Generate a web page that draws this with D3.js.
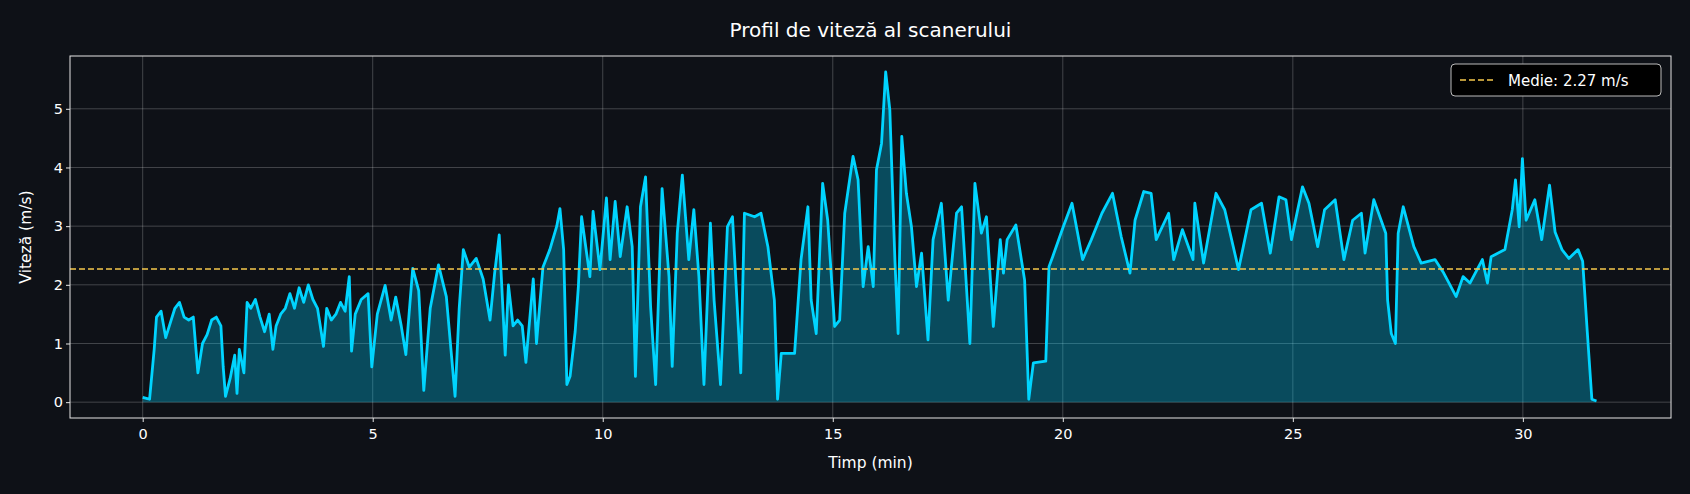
<!DOCTYPE html>
<html><head><meta charset="utf-8">
<script src="https://cdn.jsdelivr.net/npm/d3@7"></script>
<style>html,body{margin:0;background:#0e1117;}svg{display:block;font-family:"DejaVu Sans",sans-serif;}</style>
</head><body><svg id="c" width="1690" height="494"></svg>
<script>
const times = [0,0.1,0.15,0.25,0.3,0.4,0.5,0.6,0.7,0.8,0.9,1.0,1.1,1.2,1.3,1.4,1.5,1.6,1.7,1.75,1.8,1.9,2.0,2.05,2.1,2.2,2.27,2.35,2.45,2.55,2.65,2.75,2.83,2.9,3.0,3.1,3.2,3.3,3.4,3.5,3.6,3.7,3.8,3.93,4.0,4.1,4.2,4.3,4.4,4.49,4.54,4.62,4.75,4.9,4.98,5.1,5.27,5.4,5.5,5.62,5.72,5.8,5.87,6.0,6.11,6.25,6.43,6.6,6.79,6.88,6.97,7.1,7.25,7.4,7.55,7.65,7.75,7.88,7.95,8.05,8.15,8.25,8.33,8.49,8.56,8.7,8.85,9.0,9.07,9.15,9.22,9.29,9.4,9.47,9.54,9.72,9.79,9.94,10.08,10.16,10.27,10.38,10.53,10.64,10.71,10.82,10.93,11.04,11.15,11.29,11.44,11.51,11.62,11.73,11.87,11.98,12.09,12.2,12.34,12.42,12.56,12.71,12.82,13.0,13.08,13.3,13.44,13.59,13.73,13.8,13.88,14.17,14.31,14.46,14.53,14.64,14.78,14.89,15.04,15.15,15.26,15.44,15.55,15.66,15.77,15.88,15.95,16.06,16.15,16.24,16.35,16.42,16.5,16.6,16.71,16.82,16.93,17.07,17.18,17.36,17.51,17.69,17.8,17.98,18.09,18.23,18.34,18.49,18.64,18.71,18.79,18.98,19.17,19.26,19.36,19.63,19.7,19.78,20.01,20.2,20.43,20.62,20.85,21.08,21.27,21.46,21.57,21.76,21.92,22.03,22.3,22.41,22.6,22.83,22.87,23.06,23.33,23.52,23.82,24.09,24.32,24.51,24.7,24.85,24.97,25.21,25.35,25.54,25.69,25.92,26.11,26.3,26.49,26.57,26.76,27.02,27.06,27.14,27.23,27.29,27.4,27.63,27.79,28.09,28.28,28.55,28.7,28.85,29.12,29.23,29.31,29.61,29.77,29.84,29.92,29.99,30.07,30.26,30.41,30.58,30.7,30.85,31.0,31.2,31.3,31.4,31.5,31.6];
const speeds = [0.08,0.06,0.05,0.9,1.45,1.55,1.1,1.35,1.6,1.7,1.45,1.4,1.45,0.5,1.0,1.15,1.4,1.45,1.3,0.6,0.1,0.4,0.8,0.15,0.9,0.5,1.7,1.6,1.75,1.45,1.2,1.5,0.9,1.3,1.5,1.6,1.85,1.6,1.95,1.7,2.0,1.75,1.6,0.95,1.6,1.4,1.5,1.7,1.55,2.14,0.87,1.5,1.75,1.85,0.6,1.5,1.99,1.4,1.79,1.3,0.81,1.6,2.28,1.9,0.2,1.6,2.34,1.8,0.1,1.6,2.6,2.3,2.45,2.1,1.4,2.2,2.85,0.8,2.0,1.3,1.4,1.3,0.68,2.1,1.0,2.3,2.6,3.0,3.3,2.6,0.3,0.44,1.2,1.97,3.16,2.14,3.25,2.26,3.48,2.43,3.42,2.48,3.33,2.65,0.44,3.33,3.84,1.63,0.3,3.64,2.14,0.61,2.88,3.87,2.43,3.28,2.14,0.3,3.05,1.74,0.3,2.99,3.16,0.5,3.22,3.16,3.22,2.65,1.74,0.05,0.83,0.83,2.43,3.33,1.74,1.17,3.73,3.1,1.29,1.4,3.22,4.19,3.79,1.97,2.65,1.97,3.96,4.41,5.63,4.98,2.43,1.17,4.53,3.56,2.99,1.97,2.54,1.06,2.77,3.39,1.74,3.22,3.33,1.0,3.73,2.88,3.16,1.29,2.77,2.2,2.77,3.02,2.08,0.05,0.67,0.7,2.31,2.48,2.99,3.39,2.43,2.77,3.22,3.56,2.82,2.2,3.1,3.59,3.56,2.77,3.22,2.43,2.94,2.43,3.39,2.37,3.56,3.28,2.26,3.28,3.39,2.54,3.5,3.45,2.77,3.67,3.39,2.65,3.28,3.45,2.43,3.1,3.22,2.54,3.45,2.88,1.74,1.17,1.0,2.88,3.33,2.65,2.37,2.43,2.2,1.8,2.14,2.03,2.43,2.03,2.48,2.6,3.28,3.79,2.99,4.15,3.1,3.45,2.77,3.7,2.9,2.6,2.45,2.6,2.4,1.2,0.05,0.02];
const meanSpeed = 2.27;
const xTicks = [0,5,10,15,20,25,30];
const yTicks = [0,1,2,3,4,5];
const data = times.map((t,i)=>({t, v: speeds[i]}));

const svg = d3.select("#c");
const L=70,R=1671,T=56,B=418;
svg.append("rect").attr("width",1690).attr("height",494).attr("fill","#0e1117");
const x = d3.scaleLinear().domain([-1.58,33.22]).range([L,R]);
const y = d3.scaleLinear().domain([-0.27,5.9]).range([B,T]);
const g = svg.append("g");
g.selectAll(".gx").data(xTicks).join("line").attr("x1",d=>x(d)).attr("x2",d=>x(d)).attr("y1",T).attr("y2",B).attr("stroke","#ffffff").attr("stroke-opacity",0.22);
g.selectAll(".gy").data(yTicks).join("line").attr("x1",L).attr("x2",R).attr("y1",d=>y(d)).attr("y2",d=>y(d)).attr("stroke","#ffffff").attr("stroke-opacity",0.22);
g.append("path").datum(data).attr("fill","#00d4ff").attr("fill-opacity",0.3)
 .attr("d",d3.area().x(d=>x(d.t)).y0(y(0)).y1(d=>y(d.v)));
g.append("path").datum(data).attr("fill","none").attr("stroke","#00d4ff").attr("stroke-width",2.8).attr("stroke-linejoin","round")
 .attr("d",d3.line().x(d=>x(d.t)).y(d=>y(d.v)));
g.append("line").attr("x1",L).attr("x2",R).attr("y1",y(meanSpeed)).attr("y2",y(meanSpeed)).attr("stroke","#f5c84c").attr("stroke-width",1.5).attr("stroke-dasharray","6,3");
svg.append("rect").attr("x",L).attr("y",T).attr("width",R-L).attr("height",B-T).attr("fill","none").attr("stroke","#e6e6e6").attr("stroke-width",1);
const ax = svg.append("g").attr("transform",`translate(0,${B})`).call(d3.axisBottom(x).tickValues(xTicks).tickSize(4).tickFormat(d3.format("d")));
const ay = svg.append("g").attr("transform",`translate(${L},0)`).call(d3.axisLeft(y).tickValues(yTicks).tickSize(4).tickFormat(d3.format("d")));
[ax,ay].forEach(a=>{a.select(".domain").remove();a.selectAll("line").attr("stroke","#e6e6e6");a.selectAll("text").attr("fill","#ffffff").attr("font-size",14.5).attr("font-family","DejaVu Sans");});
ax.selectAll("text").attr("dy","0.95em");
svg.append("text").attr("x",(L+R)/2).attr("y",37).attr("text-anchor","middle").attr("fill","#ffffff").attr("font-size",20).text("Profil de viteză al scanerului");
svg.append("text").attr("x",(L+R)/2).attr("y",468).attr("text-anchor","middle").attr("fill","#ffffff").attr("font-size",15.5).text("Timp (min)");
svg.append("text").attr("transform",`translate(31,${(T+B)/2}) rotate(-90)`).attr("text-anchor","middle").attr("fill","#ffffff").attr("font-size",15.5).text("Viteză (m/s)");
const lg = svg.append("g");
lg.append("rect").attr("x",1451).attr("y",64).attr("width",210).attr("height",32).attr("rx",4).attr("fill","#000000").attr("stroke","#bbbbbb").attr("stroke-width",1);
lg.append("line").attr("x1",1460).attr("x2",1494).attr("y1",80).attr("y2",80).attr("stroke","#f5c84c").attr("stroke-width",1.5).attr("stroke-dasharray","6,3");
lg.append("text").attr("x",1508).attr("y",85.5).attr("fill","#ffffff").attr("font-size",15).text("Medie: 2.27 m/s");
</script></body></html>
